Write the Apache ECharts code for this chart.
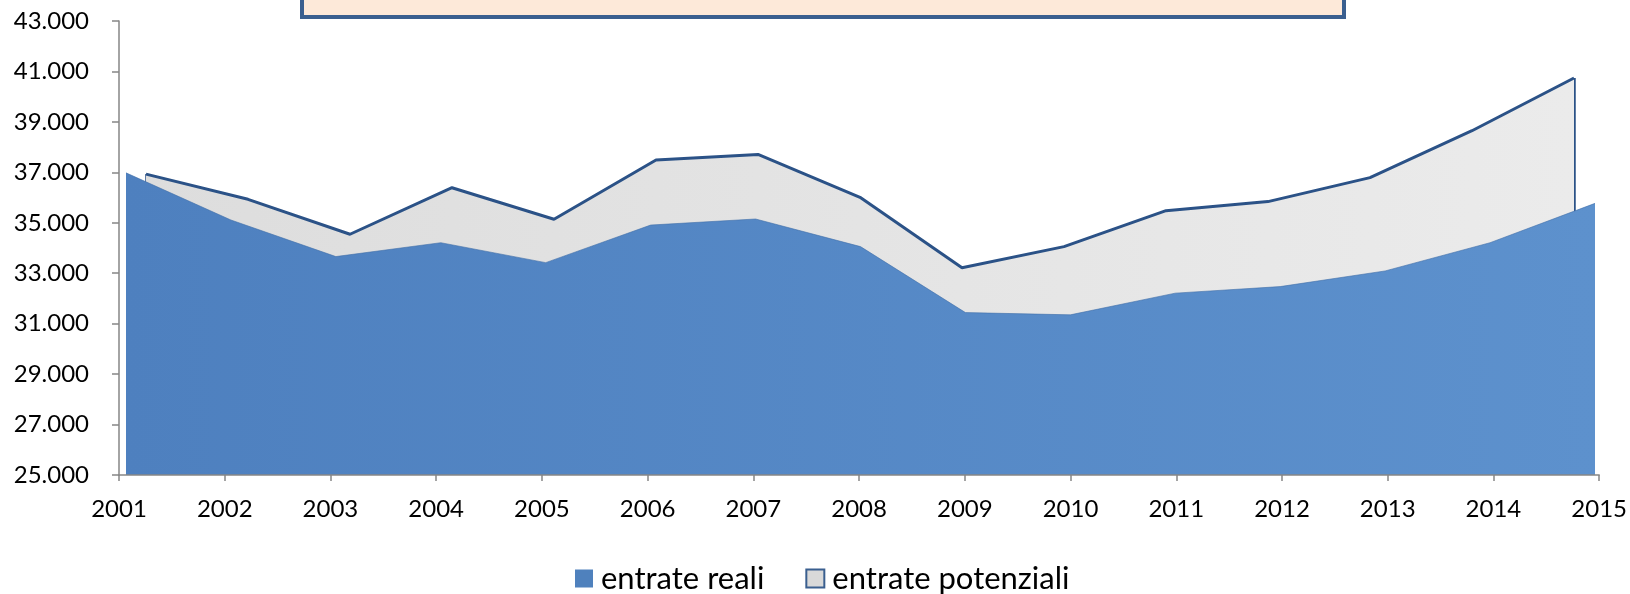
<!DOCTYPE html>
<html>
<head>
<meta charset="utf-8">
<script src="https://cdn.jsdelivr.net/npm/echarts@6/dist/echarts.min.js"></script>
<style>
html,body{margin:0;padding:0;background:#fff;}
#chart{width:1630px;height:594px;}
</style>
</head>
<body>
<div id="chart"></div>
<script>
const years = ['2001','2002','2003','2004','2005','2006','2007','2008','2009','2010','2011','2012','2013','2014','2015'];
const entrateReali = [36980, 35110, 33660, 34210, 33420, 34910, 35150, 34055, 31440, 31350, 32210, 32470, 33090, 34210, 35770];
const entratePotenziali = [36930, 35930, 34545, 36390, 35140, 37490, 37710, 36010, 33220, 34055, 35480, 35840, 36790, 38650, 40740];
const yMin = 25000, yMax = 43000, yStep = 2000;
const seriesNames = ['entrate reali', 'entrate potenziali'];

const FONT = 'Lato, "Open Sans", "Liberation Sans", sans-serif';
const fmt = v => String(v).replace(/\B(?=(\d{3})+(?!\d))/g, '.');

const chart = echarts.init(document.getElementById('chart'), null, {renderer: 'canvas'});
const lineBlue = '#2b5287';

const yBase = {
  type: 'value', min: yMin, max: yMax, interval: yStep
};

chart.setOption({
  animation: false,
  textStyle: {fontFamily: FONT},
  grid: [
    {left: 119, right: 29, top: 21, bottom: 119},
    {left: 126, right: 35, top: 21, bottom: 119},
    {left: 146, right: 56, top: 21, bottom: 119}
  ],
  xAxis: [
    {gridIndex: 0, type: 'category', data: years, boundaryGap: false, z: 10,
     axisLine: {lineStyle: {color: '#868686', width: 1.5}},
     axisTick: {show: true, length: 6, lineStyle: {color: '#868686', width: 1.5}},
     axisLabel: {color: '#000', fontSize: 24, margin: 22, fontFamily: FONT},
     splitLine: {show: false}},
    {gridIndex: 1, type: 'category', data: years, boundaryGap: false, show: false},
    {gridIndex: 2, type: 'category', data: years, boundaryGap: false, show: false}
  ],
  yAxis: [
    Object.assign({gridIndex: 0, z: 10,
     axisLine: {show: true, lineStyle: {color: '#868686', width: 1.5}},
     axisTick: {show: true, length: 7, lineStyle: {color: '#868686', width: 1.5}},
     axisLabel: {color: '#000', fontSize: 24, margin: 30, formatter: fmt, fontFamily: FONT},
     splitLine: {show: false}}, yBase),
    Object.assign({gridIndex: 1, show: false, splitLine: {show: false}}, yBase),
    Object.assign({gridIndex: 2, show: false, splitLine: {show: false}}, yBase)
  ],
  legend: {
    left: 575, top: 563, padding: 0, itemGap: 41, itemWidth: 18, itemHeight: 18,
    icon: 'rect',
    textStyle: {color: '#000', fontSize: 31, fontFamily: FONT, padding: [0, 0, 0, 3]},
    data: [
      {name: seriesNames[0], itemStyle: {color: '#4f81bd', borderWidth: 0}},
      {name: seriesNames[1], itemStyle: {color: '#d9d9d9', borderColor: '#3a5f8f', borderWidth: 2}}
    ]
  },
  graphic: [
    {type: 'rect', shape: {x: 302, y: -20, width: 1042, height: 37},
     style: {fill: '#fde9d9', stroke: '#3a5f8f', lineWidth: 4}, z: 20}
  ],
  series: [
    {
      name: seriesNames[1], type: 'line', xAxisIndex: 2, yAxisIndex: 2,
      data: entratePotenziali, symbol: 'none', showSymbol: false, z: 2,
      lineStyle: {color: lineBlue, width: 3},
      itemStyle: {color: '#d9d9d9', borderColor: '#3a5f8f'},
      areaStyle: {opacity: 1, color: new echarts.graphic.LinearGradient(0, 0, 1, 0, [
        {offset: 0, color: '#dddddd'}, {offset: 1, color: '#ebebeb'}])},
      markLine: {
        silent: true, symbol: ['none', 'none'], z: 2, animation: false,
        label: {show: false},
        lineStyle: {type: 'solid', color: lineBlue, width: 2.5},
        data: [
          [{coord: [years[0], entratePotenziali[0]]}, {coord: [years[0], yMin]}],
          [{coord: [years[years.length - 1], entratePotenziali[entratePotenziali.length - 1]]}, {coord: [years[years.length - 1], yMin]}]
        ]
      }
    },
    {
      name: seriesNames[0], type: 'line', xAxisIndex: 1, yAxisIndex: 1,
      data: entrateReali, symbol: 'none', showSymbol: false, z: 4,
      lineStyle: {color: '#3f6ea8', width: 1, opacity: 0.6},
      itemStyle: {color: '#4f81bd'},
      areaStyle: {opacity: 1, color: new echarts.graphic.LinearGradient(0, 0, 1, 0, [
        {offset: 0, color: '#4e80bf'}, {offset: 1, color: '#5d91cd'}])}
    }
  ]
});
</script>
</body>
</html>
